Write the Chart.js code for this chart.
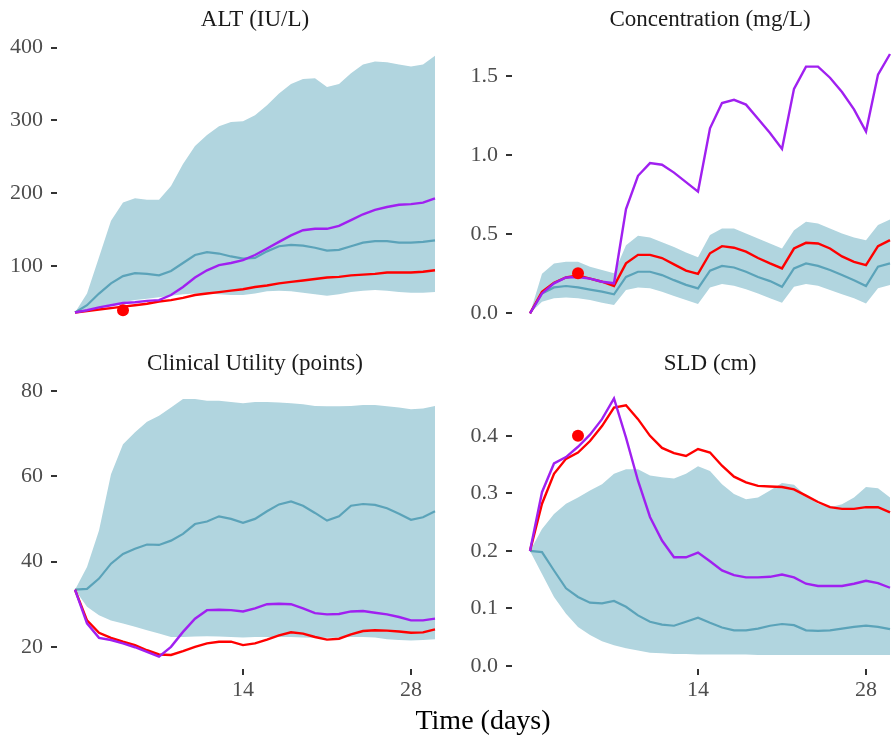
<!DOCTYPE html>
<html><head><meta charset="utf-8">
<script src="https://cdn.jsdelivr.net/npm/chart.js@4.4.1/dist/chart.umd.min.js"></script>
<style>
html,body{margin:0;padding:0;background:#fff;overflow:hidden;width:891px;height:738px;position:relative;}
canvas{position:absolute;}
#xtitle{position:absolute;left:0;width:966px;top:706px;text-align:center;font-family:'Liberation Serif',serif;font-size:28px;line-height:28px;color:#000;}
</style></head><body>
<canvas id="c1" width="453" height="326" style="left:0px;top:0px"></canvas>
<canvas id="c2" width="453" height="326" style="left:455px;top:0px"></canvas>
<canvas id="c3" width="453" height="361" style="left:0px;top:344px"></canvas>
<canvas id="c4" width="453" height="361" style="left:455px;top:344px"></canvas>
<div id="xtitle">Time (days)</div>
<script>
const days = [0,1,2,3,4,5,6,7,8,9,10,11,12,13,14,15,16,17,18,19,20,21,22,23,24,25,26,27,28,29,30];
const xTicks = [14, 28];
const panelTitles = ['ALT (IU/L)', 'Concentration (mg/L)', 'Clinical Utility (points)', 'SLD (cm)'];

// ALT
const altUpper  = [36,62,112,162,187,193,191,191,210,240,265,280,292,298,299,307,321,337,350,357,358,346,350,365,377,381,380,377,374,377,389];
const altLower  = [36,40,44,47,50,53,55,57,59,61,62,62,61,60,60,62,65,66,65,63,61,59,61,64,66,67,66,64,63,63,64];
const altMedian = [36,46,62,76,86,90,89,87,93,104,115,119,117,113,110,111,120,127,129,128,125,121,122,127,132,134,134,132,132,133,135];
const altPurple = [36,39,43,46,49,50,52,53,60,71,84,94,101,104,108,115,124,133,142,149,151,151,155,163,171,177,181,184,185,187,193];
const altRed    = [36,38,40,42,44,46,48,51,53,56,60,62,64,66,68,71,73,76,78,80,82,84,85,87,88,89,91,91,91,92,94];
const altObsDay = [4];
const altObs    = [39];
const altTicks  = [100,200,300,400];

// Concentration
const concUpper  = [0,0.25,0.316,0.326,0.326,0.295,0.274,0.253,0.43,0.49,0.48,0.45,0.42,0.385,0.354,0.495,0.537,0.537,0.505,0.474,0.442,0.41,0.526,0.58,0.568,0.537,0.505,0.48,0.463,0.558,0.594];
const concLower  = [0,0.074,0.095,0.10,0.095,0.084,0.067,0.053,0.147,0.164,0.158,0.137,0.11,0.084,0.059,0.164,0.185,0.175,0.152,0.126,0.095,0.067,0.168,0.185,0.175,0.147,0.12,0.095,0.063,0.158,0.179];
const concMedian = [0,0.126,0.164,0.173,0.164,0.15,0.137,0.12,0.23,0.263,0.263,0.242,0.21,0.18,0.158,0.27,0.30,0.29,0.263,0.23,0.204,0.168,0.284,0.316,0.30,0.274,0.242,0.21,0.173,0.295,0.316];
const concPurple = [0,0.126,0.19,0.227,0.23,0.22,0.2,0.19,0.66,0.87,0.95,0.94,0.89,0.83,0.77,1.17,1.33,1.35,1.32,1.23,1.14,1.04,1.42,1.56,1.56,1.49,1.40,1.29,1.15,1.51,1.64];
const concRed    = [0,0.137,0.194,0.227,0.24,0.22,0.2,0.173,0.316,0.37,0.37,0.35,0.31,0.27,0.25,0.38,0.425,0.415,0.39,0.35,0.316,0.284,0.41,0.446,0.442,0.41,0.36,0.326,0.305,0.425,0.463];
const concObsDay = [4];
const concObs    = [0.253];
const concTicks  = [0,0.5,1,1.5];

// Clinical Utility
const cuUpper  = [33.4,38.7,47.3,60.5,67.5,70.3,72.8,74.2,76.1,78.1,78.1,77.7,77.7,77.4,77.1,77.4,77.4,77.3,77.1,76.9,76.5,76.4,76.4,76.5,76.7,76.7,76.4,76.1,75.7,75.9,76.5];
const cuLower  = [33.4,29.4,27.4,26.2,25.5,24.7,23.9,23.1,22.3,22.3,22.4,22.5,22.4,22.3,22.2,22.3,22.3,22.3,22.3,22.2,22.1,22.1,22.2,22.3,22.3,22.2,21.8,21.6,21.5,21.6,21.8];
const cuMedian = [33.4,33.6,36.0,39.5,41.8,43.0,44.0,43.9,44.9,46.5,48.8,49.4,50.6,50.0,49.1,50.0,51.8,53.4,54.1,53.1,51.4,49.6,50.6,53.1,53.5,53.3,52.5,51.2,49.8,50.4,51.8];
const cuPurple = [33.4,25.5,22.1,21.6,20.8,19.9,18.8,17.7,20.0,23.5,26.6,28.6,28.7,28.6,28.3,29.0,30.0,30.1,30.0,29.0,27.9,27.6,27.7,28.3,28.4,28.0,27.6,27.0,26.2,26.2,26.6];
const cuRed    = [33.4,26.2,23.3,22.1,21.2,20.4,19.2,18.2,18.1,19.0,20.0,20.8,21.2,21.2,20.4,20.8,21.7,22.7,23.4,23.1,22.3,21.7,21.9,22.9,23.7,23.9,23.8,23.6,23.3,23.4,24.1];
const cuObsDay = [];
const cuObs    = [];
const cuTicks  = [20,40,60,80];

// SLD
const sldUpper  = [0.2,0.238,0.264,0.282,0.293,0.305,0.316,0.334,0.342,0.342,0.331,0.328,0.326,0.334,0.347,0.339,0.316,0.299,0.29,0.293,0.305,0.318,0.315,0.296,0.282,0.276,0.281,0.293,0.311,0.309,0.293];
const sldLower  = [0.2,0.16,0.12,0.091,0.068,0.054,0.043,0.036,0.031,0.027,0.023,0.022,0.021,0.021,0.020,0.020,0.020,0.020,0.020,0.019,0.019,0.019,0.019,0.019,0.019,0.019,0.019,0.019,0.019,0.019,0.019];
const sldMedian = [0.2,0.198,0.166,0.135,0.12,0.11,0.109,0.113,0.103,0.088,0.077,0.072,0.07,0.077,0.084,0.075,0.067,0.062,0.062,0.065,0.07,0.073,0.071,0.062,0.061,0.062,0.065,0.068,0.07,0.068,0.064];
const sldPurple = [0.2,0.302,0.352,0.363,0.381,0.402,0.429,0.465,0.397,0.322,0.259,0.218,0.189,0.189,0.197,0.182,0.166,0.158,0.154,0.154,0.155,0.159,0.154,0.143,0.139,0.139,0.139,0.143,0.148,0.144,0.136];
const sldRed    = [0.2,0.282,0.334,0.36,0.371,0.391,0.417,0.449,0.453,0.429,0.400,0.379,0.37,0.365,0.377,0.371,0.348,0.329,0.319,0.313,0.312,0.311,0.307,0.296,0.285,0.276,0.273,0.273,0.276,0.276,0.267];
const sldObsDay = [4];
const sldObs    = [0.4];
const sldTicks  = [0,0.1,0.2,0.3,0.4];

const FONT = 'Liberation Serif';
const BAND = '#B1D5DF';
const MEDIAN = '#5BA3B9';
const RED = '#FF0000';
const PURPLE = '#A020F0';

const xy = (xs, ys) => xs.map((x, i) => ({x: x, y: ys[i]}));

function yAxis(min, max, ticks, dec) {
  return {
    type: 'linear', min: min, max: max,
    border: {display: false},
    grid: {drawOnChartArea: false, drawTicks: true, tickLength: 6, color: '#333333', lineWidth: 2},
    ticks: {color: '#4D4D4D', font: {family: FONT, size: 22}, padding: 8,
            callback: v => v.toFixed(dec)},
    afterBuildTicks: s => { s.ticks = ticks.map(v => ({value: v})); },
    afterFit: s => { s.width = 57; s.paddingTop = 0; s.paddingBottom = 0; }
  };
}
function xAxis(show) {
  return {
    type: 'linear', min: -1.5, max: 31.5, display: show,
    border: {display: false},
    grid: {drawOnChartArea: false, drawTicks: true, tickLength: 6, color: '#333333', lineWidth: 2},
    ticks: {color: '#4D4D4D', font: {family: FONT, size: 22}, padding: 2, maxRotation: 0, autoSkip: false},
    afterBuildTicks: s => { s.ticks = xTicks.map(v => ({value: v})); },
    afterFit: s => { s.height = show ? 36 : 0; s.paddingLeft = 0; s.paddingRight = 0; }
  };
}
function makePanel(id, title, lower, upper, median, red, purple, obsX, obsY, yMin, yMax, yTicks, dec, showX) {
  new Chart(document.getElementById(id), {
    type: 'line',
    data: {
      datasets: [
        {data: xy(days, purple), borderColor: PURPLE, borderWidth: 2.4, pointRadius: 0, tension: 0, fill: false, order: 1},
        {data: xy(days, red), borderColor: RED, borderWidth: 2.4, pointRadius: 0, tension: 0, fill: false, order: 2},
        {data: xy(days, median), borderColor: MEDIAN, borderWidth: 2.2, pointRadius: 0, tension: 0, fill: false, order: 3},
        {data: xy(days, lower), borderWidth: 0, borderColor: 'rgba(0,0,0,0)', pointRadius: 0, tension: 0, fill: false, order: 5},
        {data: xy(days, upper), borderWidth: 0, borderColor: 'rgba(0,0,0,0)', backgroundColor: BAND, pointRadius: 0, tension: 0, fill: 3, order: 4},
        {type: 'scatter', data: xy(obsX, obsY), pointRadius: 6, pointBackgroundColor: RED, pointBorderWidth: 0, backgroundColor: RED, order: 0}
      ]
    },
    options: {
      responsive: false, animation: false, devicePixelRatio: 1,
      layout: {padding: 0, autoPadding: false},
      plugins: {
        legend: {display: false}, tooltip: {enabled: false},
        title: {display: true, text: title, fullSize: false, color: '#1A1A1A',
                font: {family: FONT, size: 23, weight: 'normal', lineHeight: 1},
                padding: {top: 8, bottom: 11}}
      },
      scales: {x: xAxis(showX), y: yAxis(yMin, yMax, yTicks, dec)}
    }
  });
}
makePanel('c1', panelTitles[0], altLower, altUpper, altMedian, altRed, altPurple, altObsDay, altObs, 17.4, 407.8, altTicks, 0, false);
makePanel('c2', panelTitles[1], concLower, concUpper, concMedian, concRed, concPurple, concObsDay, concObs, -0.080, 1.716, concTicks, 1, false);
makePanel('c3', panelTitles[2], cuLower, cuUpper, cuMedian, cuRed, cuPurple, cuObsDay, cuObs, 14.8, 81.17, cuTicks, 0, true);
makePanel('c4', panelTitles[3], sldLower, sldUpper, sldMedian, sldRed, sldPurple, sldObsDay, sldObs, -0.0052, 0.4866, sldTicks, 1, true);
</script>
</body></html>
